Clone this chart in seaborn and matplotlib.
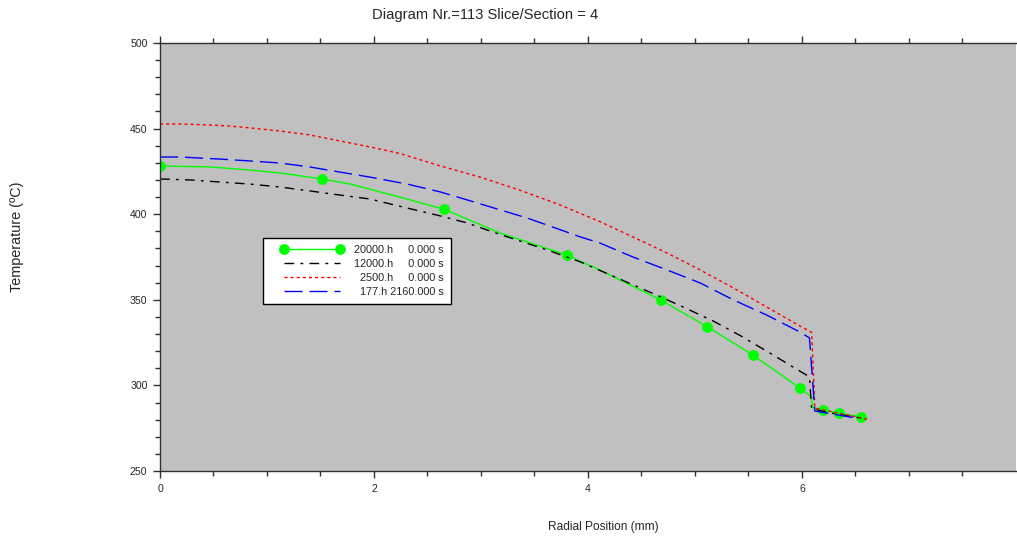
import matplotlib
matplotlib.use("Agg")
import matplotlib.pyplot as plt
from matplotlib.legend_handler import HandlerLine2D
from matplotlib.lines import Line2D
import seaborn as sns
import numpy as np

# ---------------- data ----------------
green_x = [0.00, 0.47, 0.84, 1.12, 1.51, 1.78, 2.24, 2.65, 3.18, 3.80, 4.11, 4.68,
           5.11, 5.54, 5.98, 6.09, 6.10, 6.20, 6.35, 6.55]
green_y = [428.2, 427.6, 425.8, 424.1, 420.6, 417.6, 410.0, 403.0, 389.0, 376.2, 367.4, 349.9,
           334.4, 317.8, 298.5, 293.2, 287.0, 285.6, 283.9, 281.5]
green_marks = [0, 4, 7, 9, 11, 12, 13, 14, 17, 18, 19]

black_x = [0.00, 0.28, 0.56, 0.84, 1.12, 1.40, 1.68, 1.96, 2.31, 2.62, 2.87, 3.11, 3.39,
           3.62, 3.93, 4.36, 4.64, 4.91, 5.17, 5.42, 5.70, 5.93, 6.07, 6.09, 6.15, 6.30, 6.55]
black_y = [420.6, 420.0, 418.8, 417.6, 415.9, 413.6, 411.2, 408.9, 403.6, 399.0, 394.9, 389.6, 383.8,
           379.1, 372.1, 360.4, 352.8, 345.2, 337.6, 329.2, 318.9, 310.2, 305.0, 286.0, 285.6, 283.5, 281.0]

red_x = [0.00, 0.19, 0.47, 0.65, 0.84, 1.12, 1.40, 1.68, 1.96, 2.24, 2.62, 2.99, 3.36, 3.74,
         4.11, 4.42, 4.74, 5.05, 5.36, 5.67, 5.98, 6.09, 6.12, 6.14, 6.64]
red_y = [452.7, 452.7, 452.1, 451.5, 450.4, 448.6, 446.3, 442.8, 439.3, 435.5, 428.2, 421.7, 414.1, 405.4,
         395.7, 386.7, 377.3, 367.4, 356.9, 345.8, 334.7, 331.0, 287.0, 286.5, 279.8]

blue_x = [0.00, 0.19, 0.56, 0.84, 1.12, 1.40, 1.68, 1.96, 2.31, 2.62, 2.90, 3.18, 3.43, 3.67,
          3.93, 4.11, 4.42, 4.74, 5.05, 5.36, 5.67, 5.98, 6.07, 6.12, 6.45, 6.55]
blue_y = [433.4, 433.4, 432.2, 431.1, 429.9, 427.6, 424.6, 421.7, 417.6, 413.0, 407.8, 402.5, 397.8, 392.5,
          386.7, 383.2, 375.0, 367.4, 359.8, 349.9, 341.1, 331.2, 327.7, 285.0, 281.5, 281.0]

labels = ["20000.h\u2007\u2007 0.000 s",
          "12000.h\u2007\u2007 0.000 s",
          "\u20072500.h\u2007\u2007 0.000 s",
          "\u2007177.h 2160.000 s"]

title = "Diagram Nr.=113 Slice/Section = 4"
xlabel = "Radial Position (mm)"
ylabel = "Temperature (\u00baC)"

# ---------------- plot ----------------
sns.set_style("white")
plt.rcParams['font.family'] = ['Liberation Sans', 'DejaVu Sans']

fig = plt.figure(figsize=(10.17, 5.38), dpi=100)
ax = fig.add_axes([160/1017, 1-471/538, 1-160/1017 - 0.001, (471-43)/538])
ax.set_facecolor("#c0c0c0")

sns.lineplot(x=green_x, y=green_y, ax=ax, sort=False, color="#00ff00", linewidth=1.0,
             marker='o', markersize=7.8, markevery=green_marks, markeredgewidth=0,
             label=labels[0], estimator=None)
sns.lineplot(x=black_x, y=black_y, ax=ax, sort=False, color="black", linewidth=1.0,
             linestyle=(0, (7, 4.5, 2, 4.5)), label=labels[1], estimator=None)
sns.lineplot(x=red_x, y=red_y, ax=ax, sort=False, color="#ff0000", linewidth=1.0,
             linestyle=(0, (2.2, 2.2)), label=labels[2], estimator=None)
sns.lineplot(x=blue_x, y=blue_y, ax=ax, sort=False, color="#0000ff", linewidth=1.0,
             linestyle=(0, (13, 5)), label=labels[3], estimator=None)

ax.set_xlim(0, 8)
ax.set_ylim(250, 500)
ax.set_xticks([0, 2, 4, 6])
ax.set_xticks(np.arange(0, 8, 0.5), minor=True)
ax.set_yticks([250, 300, 350, 400, 450, 500])
ax.set_yticks(np.arange(250, 501, 10), minor=True)
ax.tick_params(which='both', direction='out', top=True, left=True, bottom=True,
               right=False, color="#303030", labelsize=7.6, width=1)
ax.tick_params(which='major', length=5, pad=4)
ax.tick_params(which='minor', length=3.5)
for s in ['left', 'bottom', 'top']:
    ax.spines[s].set_color("#303030")
    ax.spines[s].set_linewidth(1)
ax.spines['right'].set_visible(False)
ax.set_xlabel("")
ax.set_ylabel("")

fig.text(485/1017, 1-15/538, title, ha='center', va='center', fontsize=10.6)
fig.text(603/1017, 1-527/538, xlabel, ha='center', va='center', fontsize=8.6)
fig.text(17/1017, 1-237/538, ylabel, ha='center', va='center', rotation=90, fontsize=10.4)

hmap = {Line2D: HandlerLine2D(xpad=1.0)}
leg = ax.legend(loc='lower left', bbox_to_anchor=(263/1017, 1-304/538), bbox_transform=fig.transFigure,
                frameon=True, fancybox=False, framealpha=1, edgecolor='black', facecolor='white',
                fontsize=7.8, handlelength=6.8, handletextpad=1.0, labelspacing=0.38,
                borderpad=0.62, numpoints=2, borderaxespad=0, handler_map=hmap)
leg.get_frame().set_linewidth(1)

fig.savefig("out.png", dpi=100)
